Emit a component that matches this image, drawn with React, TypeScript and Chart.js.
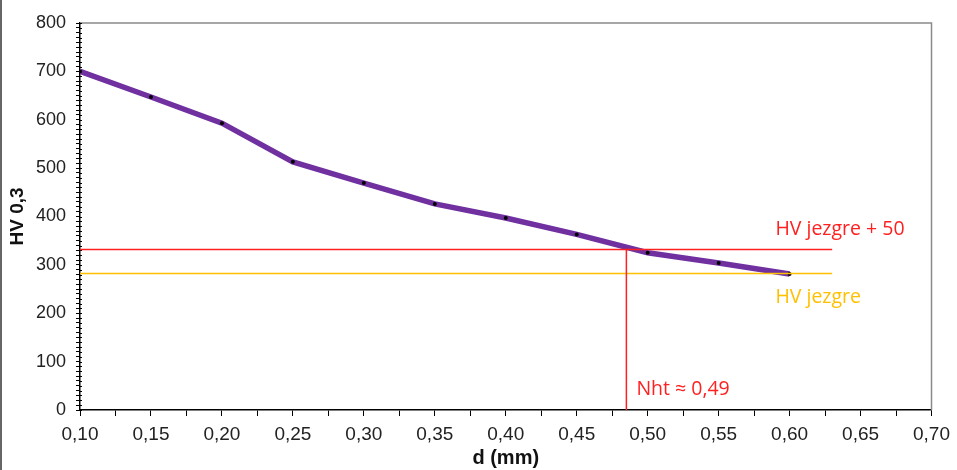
import React, { useEffect, useRef } from "react";
import { Chart, registerables } from "chart.js";

Chart.register(...registerables);

const D_VALUES = [0.1, 0.15, 0.2, 0.25, 0.3, 0.35, 0.4, 0.45, 0.5, 0.55, 0.6];
const HV_VALUES = [700, 647, 593, 513, 469, 426, 397, 363, 325, 304, 281];
const HV_CORE = 282;
const HV_CORE_PLUS = 332;
const NHT = 0.485;
const REF_LINE_START = 0.1;
const REF_LINE_END = 0.63;
const LABEL_X = 0.59;
const X_MIN = 0.1;
const X_MAX = 0.7;
const Y_MIN = 0;
const Y_MAX = 800;

const PURPLE = "#7030A0";
const RED = "#FF2020";
const GOLD = "#FFC000";

export default function App() {
  const ref = useRef<HTMLCanvasElement | null>(null);

  useEffect(() => {
    document.body.style.margin = "0";
    const canvas = ref.current;
    if (!canvas) return;

    const decor = {
      id: "decor",
      beforeDatasetsDraw(chart: any) {
        const { ctx, chartArea } = chart;
        const ys = chart.scales.y;
        ctx.save();
        ctx.strokeStyle = "#8a8a8a";
        ctx.lineWidth = 1.5;
        ctx.beginPath();
        ctx.moveTo(chartArea.left, chartArea.top);
        ctx.lineTo(chartArea.right, chartArea.top);
        ctx.lineTo(chartArea.right, chartArea.bottom);
        ctx.stroke();
        // minor ticks crossing into the plot on the y axis
        ctx.strokeStyle = "#000";
        ctx.lineWidth = 1;
        ctx.beginPath();
        for (const t of ys.ticks) {
          const py = Math.round(ys.getPixelForValue(t.value)) + 0.5;
          ctx.moveTo(chartArea.left, py);
          ctx.lineTo(chartArea.left + 2, py);
        }
        ctx.stroke();
        ctx.strokeStyle = "#666";
        ctx.lineWidth = 2;
        ctx.beginPath();
        ctx.moveTo(1, 0);
        ctx.lineTo(1, chart.height);
        ctx.stroke();
        ctx.restore();
      },
      afterDatasetsDraw(chart: any) {
        const { ctx } = chart;
        const xs = chart.scales.x;
        const ys = chart.scales.y;
        ctx.save();
        ctx.font = '19.5px "Open Sans"';
        ctx.textBaseline = "middle";
        ctx.textAlign = "left";
        ctx.fillStyle = RED;
        ctx.fillText("HV jezgre + 50", xs.getPixelForValue(LABEL_X), ys.getPixelForValue(HV_CORE_PLUS) - 20);
        ctx.fillStyle = GOLD;
        ctx.fillText("HV jezgre", xs.getPixelForValue(LABEL_X), ys.getPixelForValue(HV_CORE) + 24);
        ctx.fillStyle = RED;
        ctx.fillText("Nht \u2248 0,49", xs.getPixelForValue(NHT) + 10, ys.getPixelForValue(Y_MIN) - 21);
        ctx.restore();
      },
    };

    const chart = new Chart(canvas, {
      type: "line",
      data: {
        datasets: [
          {
            label: "HV jezgre + 50",
            data: [
              { x: REF_LINE_START, y: HV_CORE_PLUS },
              { x: REF_LINE_END, y: HV_CORE_PLUS },
            ],
            borderColor: RED,
            borderWidth: 1.5,
            pointRadius: 0,
            order: 0,
          },
          {
            label: "Nht",
            data: [
              { x: NHT, y: Y_MIN },
              { x: NHT, y: HV_CORE_PLUS },
            ],
            borderColor: RED,
            borderWidth: 1.5,
            pointRadius: 0,
            order: 0,
          },
          {
            label: "HV jezgre",
            data: [
              { x: REF_LINE_START, y: HV_CORE },
              { x: REF_LINE_END, y: HV_CORE },
            ],
            borderColor: GOLD,
            borderWidth: 1.5,
            pointRadius: 0,
            order: 0,
          },
          {
            label: "HV 0,3",
            data: D_VALUES.map((d, i) => ({ x: d, y: HV_VALUES[i] })),
            borderColor: PURPLE,
            borderWidth: 5.5,
            pointRadius: 2,
            pointBackgroundColor: "#000",
            pointBorderColor: "#000",
            pointBorderWidth: 0,
            tension: 0,
            order: 1,
          },
        ],
      },
      options: {
        responsive: false,
        animation: false,
        devicePixelRatio: 1,
        layout: { padding: { top: 23, right: 24, left: 0, bottom: 0 } },
        plugins: {
          legend: { display: false },
          tooltip: { enabled: false },
        },
        scales: {
          x: {
            type: "linear",
            min: X_MIN,
            max: X_MAX,
            afterFit(scale: any) {
              scale.height = 60;
            },
            ticks: {
              stepSize: 0.025,
              autoSkip: false,
              maxRotation: 0,
              padding: 7,
              color: "#222",
              font: { family: '"Liberation Sans", Arial', size: 19 },
              callback(v: any) {
                const k = Math.round(Number(v) * 1000);
                return k % 50 === 0 ? (k / 1000).toFixed(2).replace(".", ",") : "";
              },
            },
            grid: {
              display: true,
              drawOnChartArea: false,
              drawTicks: true,
              tickLength: 6,
              color: "#000",
              lineWidth: 1,
            },
            border: { display: true, color: "#000", width: 1.5 },
            title: {
              display: true,
              text: "d (mm)",
              color: "#111",
              font: { family: '"Liberation Sans", Arial', size: 20, weight: "bold" },
              padding: { top: 0, bottom: 0 },
            },
          },
          y: {
            type: "linear",
            min: Y_MIN,
            max: Y_MAX,
            afterFit(scale: any) {
              scale.width = 80;
            },
            ticks: {
              stepSize: 10,
              autoSkip: false,
              padding: 10,
              color: "#222",
              font: { family: '"Liberation Sans", Arial', size: 18 },
              callback(v: any) {
                const n = Math.round(Number(v));
                return n % 100 === 0 ? String(n) : "";
              },
            },
            grid: {
              display: true,
              drawOnChartArea: false,
              drawTicks: true,
              tickLength: 4,
              color: "#000",
              lineWidth: 1,
            },
            border: { display: true, color: "#000", width: 1.5 },
            title: {
              display: true,
              text: "HV 0,3",
              color: "#111",
              font: { family: '"Liberation Sans", Arial', size: 19, weight: "bold" },
              padding: { top: 6, bottom: 0 },
            },
          },
        },
      },
      plugins: [decor],
    });

    return () => chart.destroy();
  }, []);

  return <canvas ref={ref} width={957} height={470} style={{ display: "block" }} />;
}
